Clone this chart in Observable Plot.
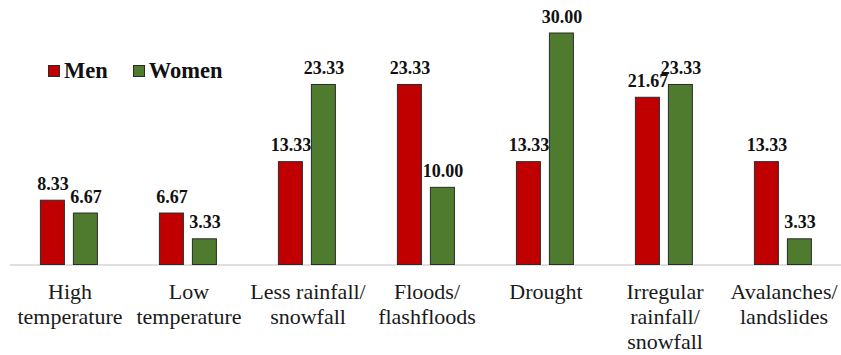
<!DOCTYPE html>
<html>
<head>
<meta charset="utf-8">
<script src="https://cdn.jsdelivr.net/npm/d3@7"></script>
<script src="https://cdn.jsdelivr.net/npm/@observablehq/plot@0.6"></script>
</head>
<body style="margin:0;background:#fff;font-family:'Liberation Serif'">
<div id="wrap" style="position:relative;width:841px;height:355px">
  <div id="legend" style="position:absolute;left:48px;top:60px;z-index:1;font-family:'Liberation Serif';font-weight:bold;font-size:22.5px;line-height:1;color:#111;white-space:nowrap"><span style="display:inline-block"><span class="swatch" style="display:inline-block;width:10px;height:10px;border:1px solid #2b2b2b;margin-right:4px;margin-bottom:1px"></span>Men</span><span style="display:inline-block;margin-left:25px"><span class="swatch" style="display:inline-block;width:10px;height:10px;border:1px solid #2b2b2b;margin-right:4px;margin-bottom:1px"></span>Women</span></div>
</div>
<script>
// Perceived climate hazards, share of respondents (%) by gender
const categories = [
  "High\ntemperature",
  "Low\ntemperature",
  "Less rainfall/\nsnowfall",
  "Floods/\nflashfloods",
  "Drought",
  "Irregular\nrainfall/\nsnowfall",
  "Avalanches/\nlandslides"
];
const groups = ["Men", "Women"];
const menValues = [8.33, 6.67, 13.33, 23.33, 13.33, 21.67, 13.33];
const womenValues = [6.67, 3.33, 23.33, 10.00, 30.00, 23.33, 3.33];
const groupColors = ["#C00000", "#4f7b2e"];

// long-format table for the grouped bars
const rows = categories.flatMap((category, i) => [
  {category, group: groups[0], value: menValues[i]},
  {category, group: groups[1], value: womenValues[i]}
]);

const serif = "Liberation Serif";

const chart = Plot.plot({
  width: 841,
  height: 355,
  marginTop: 33,
  marginBottom: 90.5,
  marginLeft: 7.6,
  marginRight: -4.9,
  style: {fontFamily: serif, background: "white", overflow: "visible"},
  fx: {domain: categories, padding: 0, label: null},
  x: {domain: groups, paddingInner: 0.265, paddingOuter: 0.893, axis: null},
  y: {domain: [0, 30], axis: null},
  color: {domain: groups, range: groupColors},
  marks: [
    Plot.ruleY([0], {stroke: "#d6d6d6", strokeWidth: 1.5}),
    Plot.barY(rows, {
      fx: "category", x: "group", y: "value",
      fill: "group", stroke: "#2b2b2b", strokeWidth: 1
    }),
    Plot.text(rows, {
      fx: "category", x: "group", y: "value",
      text: d => d.value.toFixed(2),
      lineAnchor: "bottom", dy: -11,
      fontFamily: serif, fontSize: 18, fontWeight: "bold", fill: "#111"
    }),
    Plot.axisFx({
      anchor: "bottom", tickSize: 0, tickPadding: 16,
      fontFamily: serif, fontSize: 22, lineHeight: 1.136, label: null, fill: "#1a1a1a"
    })
  ]
});

const wrap = document.getElementById("wrap");
wrap.insertBefore(chart, wrap.firstChild);

// legend swatches take the series colours
d3.selectAll("#legend .swatch").data(groupColors).style("background", d => d);
</script>
</body>
</html>
